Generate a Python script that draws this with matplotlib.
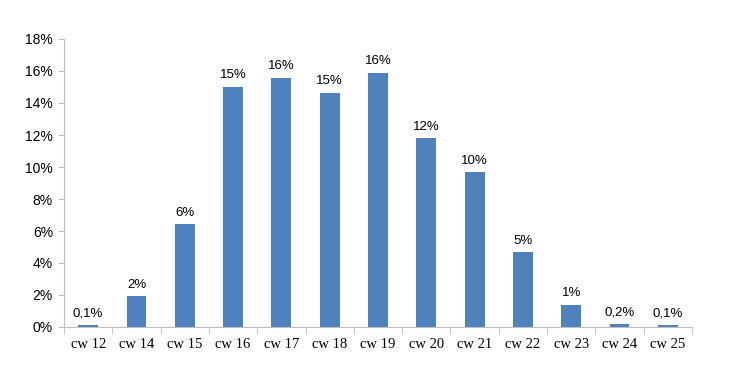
import matplotlib
matplotlib.use("Agg")
import matplotlib.pyplot as plt
import numpy as np
from matplotlib.ticker import FixedLocator

categories = ["cw 12", "cw 14", "cw 15", "cw 16", "cw 17", "cw 18", "cw 19",
              "cw 20", "cw 21", "cw 22", "cw 23", "cw 24", "cw 25"]
values = [0.1, 1.92, 6.42, 15.02, 15.56, 14.62, 15.88, 11.8, 9.68, 4.67, 1.37, 0.2, 0.1]
labels = ["0,1%", "2%", "6%", "15%", "16%", "15%", "16%", "12%", "10%", "5%", "1%", "0,2%", "0,1%"]
yticks = [0, 2, 4, 6, 8, 10, 12, 14, 16, 18]

fig = plt.figure(figsize=(7.30, 3.83), dpi=100)
ax = fig.add_axes([64/730, 1-327/383, (692-64)/730, (327-39)/383])
x = np.arange(len(categories))
bars = ax.bar(x, values, width=0.41, color="#4F81BD", zorder=2)
ax.set_xlim(-0.5, len(categories)-0.5)
ax.set_ylim(0, 18)
ax.set_yticks(yticks)
ax.set_yticklabels([f"{t}%" for t in yticks], family="Liberation Sans", fontsize=10)
ax.set_xticks(x)
ax.set_xticklabels(categories, family="Liberation Serif", fontsize=10.5)
ax.tick_params(axis="x", length=0, pad=8)
ax.xaxis.set_minor_locator(FixedLocator(np.arange(-0.5, len(categories), 1)))
ax.tick_params(axis="x", which="minor", length=5, direction="out", color="#BFBFBF")
ax.tick_params(axis="y", length=4, color="#BFBFBF", pad=4)
for s in ["top", "right"]:
    ax.spines[s].set_visible(False)
for s in ["left", "bottom"]:
    ax.spines[s].set_color("#BFBFBF")
for xi, v, lab in zip(x, values, labels):
    ax.text(xi, v + 0.35, lab, ha="center", va="bottom", fontsize=9.5, family="Liberation Sans")
fig.savefig("out.png", dpi=100)
